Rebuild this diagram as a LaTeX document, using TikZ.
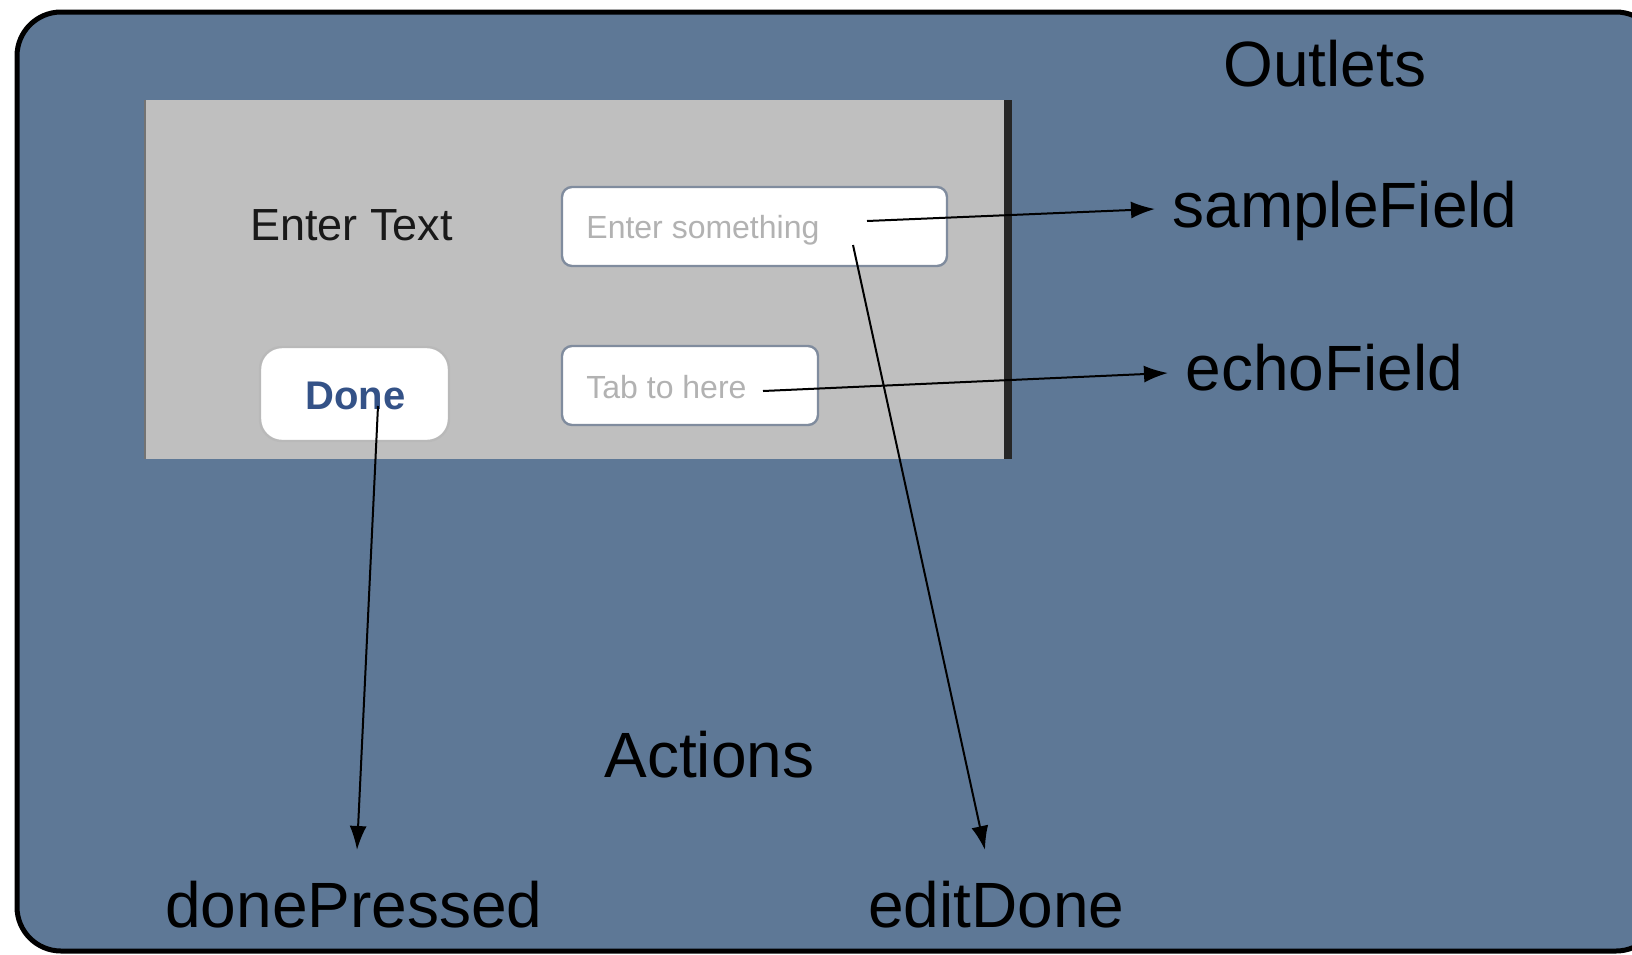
\documentclass[tikz,border=0pt]{standalone}
\usepackage{fontspec}
\setmainfont{Liberation Sans}
\usetikzlibrary{arrows.meta}
\definecolor{bgblue}{RGB}{94,120,150}
\definecolor{panelgray}{RGB}{191,191,191}
\definecolor{donecol}{RGB}{52,82,135}
\definecolor{hintgray}{RGB}{178,178,178}
\definecolor{fieldedge}{RGB}{128,140,158}
\tikzset{
  lbl/.style={anchor=base west, inner sep=0pt, font=\fontsize{32pt}{36pt}\selectfont, text=black},
  field/.style={draw=fieldedge, line width=1.2pt, fill=white, rounded corners=5pt},
  hint/.style={anchor=base west, inner sep=0pt, font=\fontsize{16pt}{18pt}\selectfont, text=hintgray},
  conn/.style={draw=black, line width=1pt, -{Latex[length=12pt,width=8.5pt]}},
}
\begin{document}
\begin{tikzpicture}[x=0.5pt,y=-0.5pt]
\useasboundingbox (0,0) rectangle (1632,954);
\clip (0,0) rectangle (1632,954);
\fill[white] (0,0) rectangle (1632,954);
% frame
\draw[line width=2.5pt, fill=bgblue, rounded corners=22pt] (17,12) rectangle (1660,951);
% panel
\fill[panelgray] (145,100) rectangle (1004,459);
\fill[black!85] (1004,100) rectangle (1012,459);
\draw[black!55, line width=1pt] (145,100) -- (145,459);
% fields
\draw[field] (562,187) rectangle (947,266);
\draw[field] (562,346) rectangle (818,425);
\draw[draw=gray!55, line width=1.2pt, fill=white, rounded corners=11pt] (260,347) rectangle (449,441);
% texts in panel
\node[anchor=base west, inner sep=0pt, font=\fontsize{22.5pt}{26pt}\selectfont, text=black!90] (entertext) at (250,240) {Enter Text};
\node[hint] (hint1) at (586,238) {Enter something};
\node[hint] (hint2) at (586,398) {Tab to here};
\node[anchor=base west, inner sep=0pt, font=\fontsize{20pt}{24pt}\selectfont\bfseries, text=donecol] (done) at (305,409) {Done};
% labels
\node[lbl] (outlets) at (1223,86) {Outlets};
\node[lbl] (sf) at (1172,227) {sampleField};
\node[lbl] (ef) at (1185,390) {echoField};
\node[lbl] (actions) at (604,777) {Actions};
\node[lbl] (dp) at (165,927) {donePressed};
\node[lbl] (ed) at (868,927) {editDone};
% connector ends
\coordinate (s1) at (867,221);
\coordinate (s2) at (763,391);
\coordinate (s3) at (378,406);
\coordinate (s4) at (853,245);
\coordinate (e1) at (1155,209);
\coordinate (e2) at (1168,373);
\coordinate (e3) at (357,850);
\coordinate (e4) at (985,850);
\draw[conn] (s1) -- (e1);
\draw[conn] (s2) -- (e2);
\draw[conn] (s3) -- (e3);
\draw[conn] (s4) -- (e4);
\end{tikzpicture}
\end{document}
